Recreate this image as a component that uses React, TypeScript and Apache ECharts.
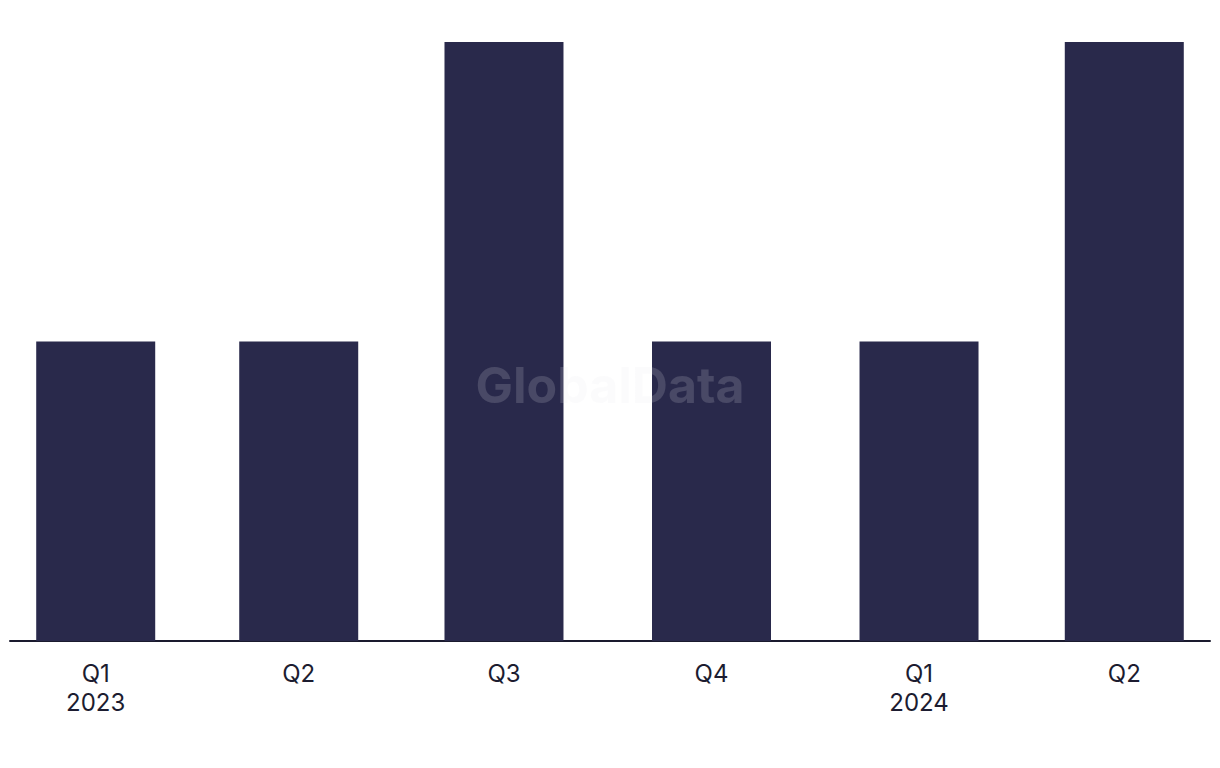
import React, { useEffect, useRef } from "react";
import * as echarts from "echarts";

const quarterStarts = ["2023-01-01", "2023-04-01", "2023-07-01", "2023-10-01", "2024-01-01", "2024-04-01"];
const categories = ["Q1\n2023", "Q2", "Q3", "Q4", "Q1\n2024", "Q2"];
const values = [1, 1, 2, 1, 1, 2];
const axisStart = "2022-11-24";
const axisEnd = "2024-05-09";

const toTs = (s: string) => {
  const [y, m, d] = s.split("-").map(Number);
  return Date.UTC(y, m - 1, d);
};

export default function App() {
  const ref = useRef<HTMLDivElement>(null);
  useEffect(() => {
    const chart = echarts.init(ref.current!, null, { renderer: "svg" });
    const font = "Inter, 'Liberation Sans', sans-serif";
    chart.setOption({
      animation: false,
      grid: { left: 10, right: 10, top: 42, bottom: 127, containLabel: false },
      xAxis: {
        type: "value",
        min: toTs(axisStart),
        max: toTs(axisEnd),
        axisLine: { show: true, onZero: false, lineStyle: { color: "#1a1a2e", width: 2 } },
        axisTick: { show: false },
        axisLabel: { show: false },
        splitLine: { show: false },
      },
      yAxis: {
        type: "value",
        min: 0,
        max: 2,
        show: false,
        splitLine: { show: false },
      },
      graphic: [
        {
          type: "text",
          x: 610,
          y: 385,
          style: {
            text: "GlobalData",
            fill: "rgba(230,230,235,0.17)",
            font: `bold 50px ${font}`,
            align: "center",
            verticalAlign: "middle",
          },
          z: 100,
        },
      ],
      series: [
        {
          type: "bar",
          data: quarterStarts.map((d, i) => [toTs(d), values[i]]),
          barWidth: 119,
          itemStyle: { color: "#29294b" },
          label: {
            show: true,
            position: "bottom",
            distance: 18,
            formatter: (p: any) => categories[p.dataIndex],
            color: "#1c1c30",
            fontSize: 24,
            lineHeight: 29,
            fontFamily: font,
            align: "center",
          },
        },
      ],
    });
    return () => chart.dispose();
  }, []);
  return <div ref={ref} style={{ width: 1220, height: 768, position: "absolute", left: 0, top: 0 }} />;
}
